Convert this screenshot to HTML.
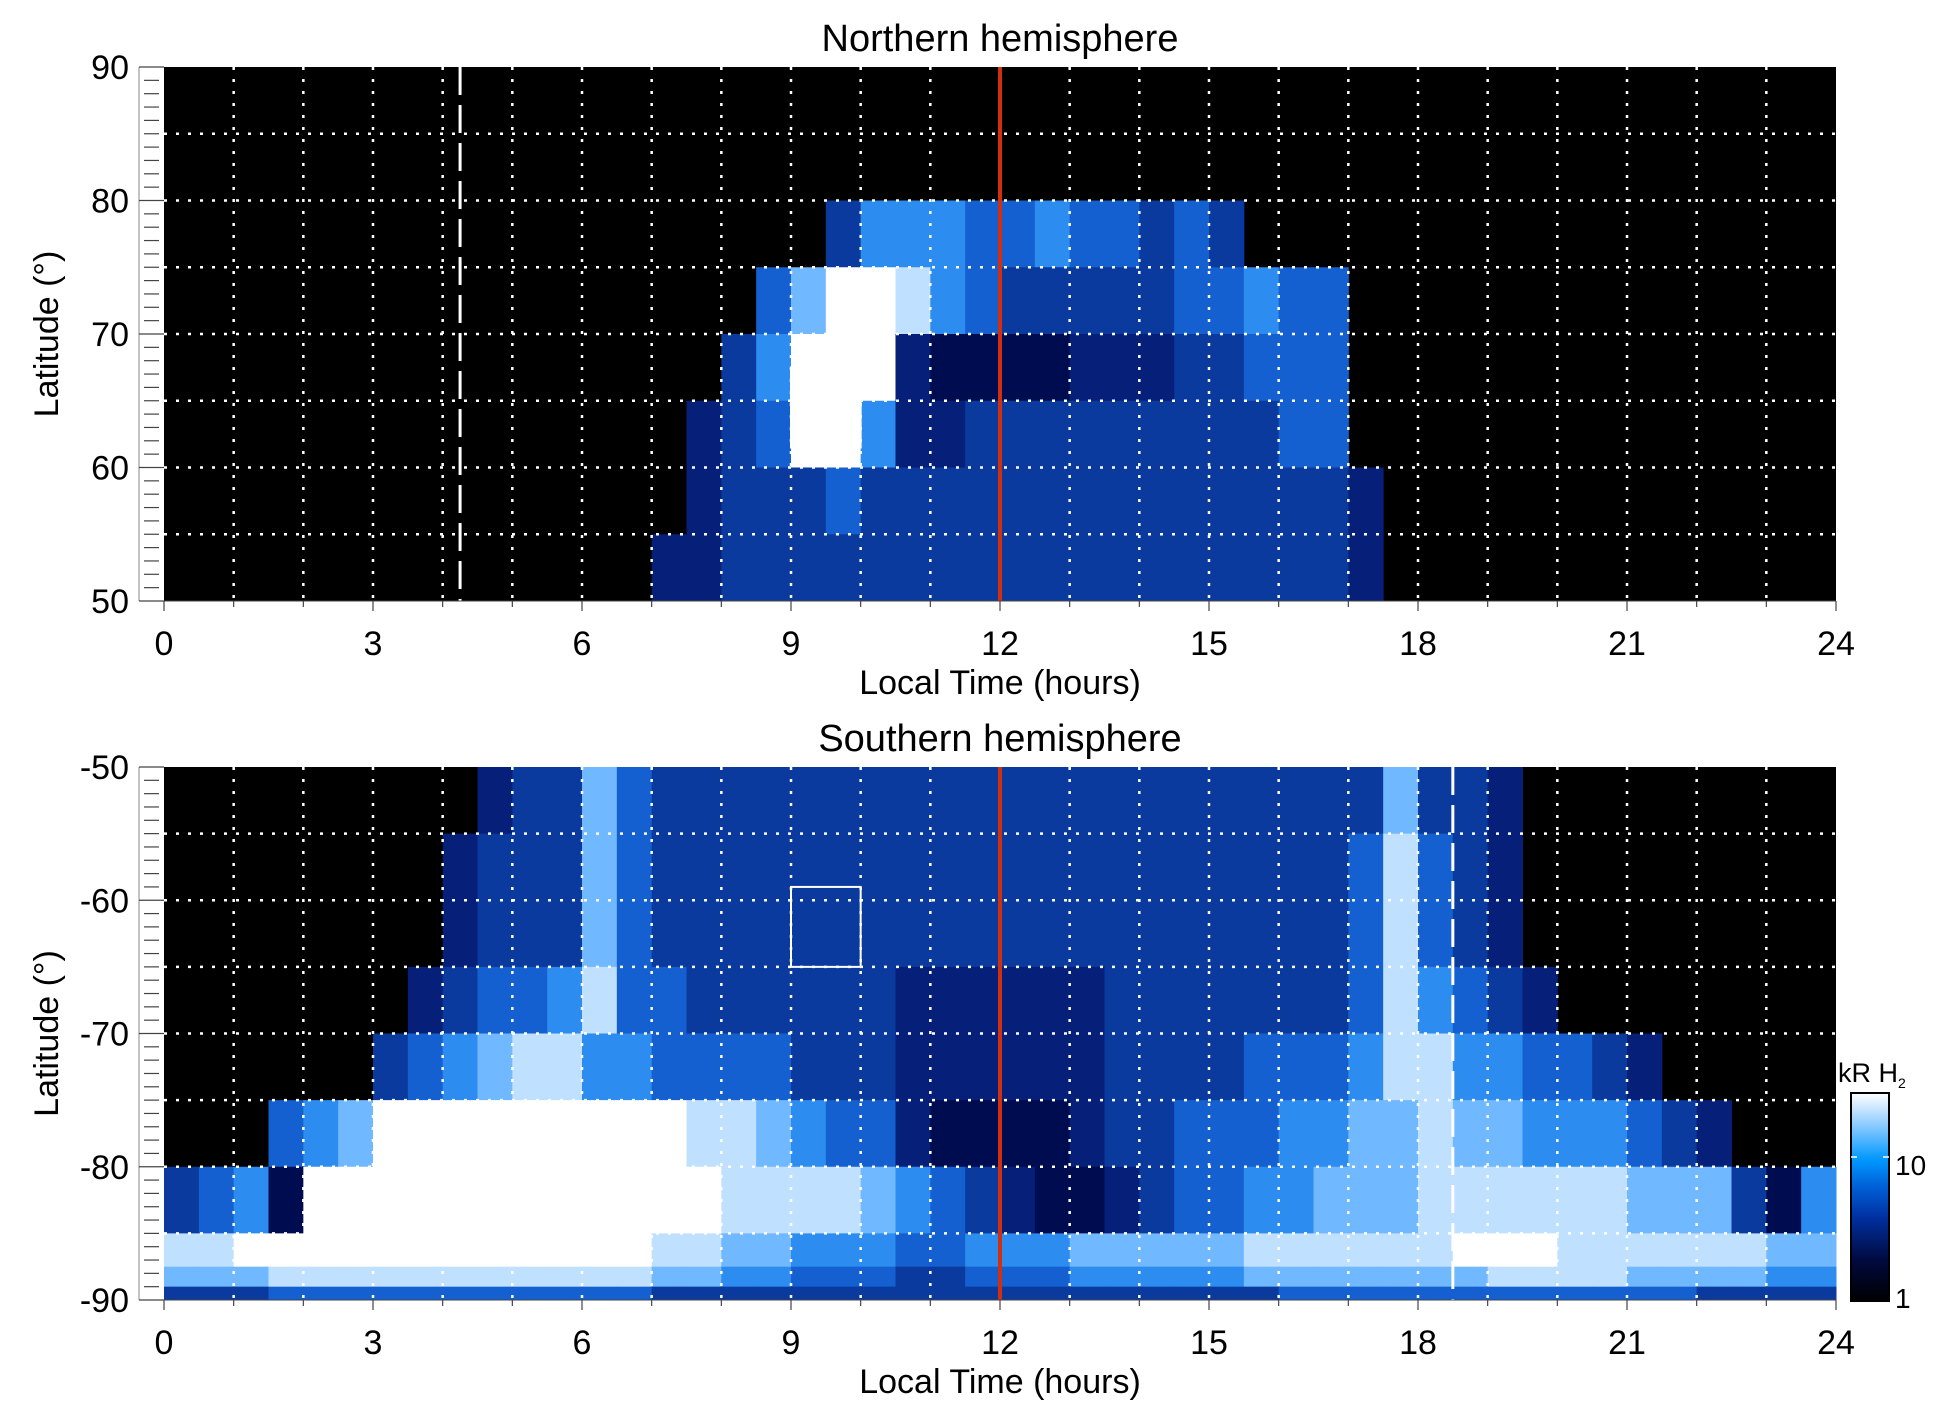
<!DOCTYPE html>
<html><head><meta charset="utf-8"><style>
body{margin:0;background:#fff;}
svg{display:block;font-family:"Liberation Sans",sans-serif;}
</style></head><body>
<svg id="fig" width="1950" height="1423" viewBox="0 0 1950 1423">
<defs>
<linearGradient id="cbg" x1="0" y1="1" x2="0" y2="0">
<stop offset="0" stop-color="#000"/><stop offset="0.2" stop-color="#000a40"/><stop offset="0.4" stop-color="#0030a0"/><stop offset="0.55" stop-color="#0060d8"/><stop offset="0.68" stop-color="#0098ff"/><stop offset="0.85" stop-color="#90ccff"/><stop offset="1" stop-color="#ffffff"/>
</linearGradient>
</defs>
<g id="north"></g>
<g id="south"></g>
<g>
<rect x="1851" y="1093" width="38" height="208" fill="url(#cbg)" stroke="#000" stroke-width="2"/>
<text x="1838" y="1082" font-size="27">kR H<tspan font-size="14" dy="6">2</tspan></text>
<text x="1895" y="1175" font-size="28">10</text>
<text x="1895" y="1308" font-size="28">1</text>
<line x1="1851" y1="1157" x2="1857" y2="1157" stroke="#fff" stroke-width="1.5"/>
<line x1="1883" y1="1157" x2="1889" y2="1157" stroke="#fff" stroke-width="1.5"/>
</g>
</svg>
<script>
// Intensity levels (0-9) per half-hour column (48 per row); rows span between consecutive edges
const hourTicks = [0,3,6,9,12,15,18,21,24];
const northLatTicks = [90,80,70,60,50];
const southLatTicks = [-50,-60,-70,-80,-90];
const northRowEdges = [90,85,80,75,70,65,60,55,50];
const northRows = [
"000000000000000000000000000000000000000000000000",
"000000000000000000000000000000000000000000000000",
"000000000000000000046665565545400000000000000000",
"000000000000000005799865444445565500000000000000",
"000000000000000046999322223334455500000000000000",
"000000000000000345996334444444445500000000000000",
"000000000000000344454444444444444430000000000000",
"000000000000003344444444444444444430000000000000"
];
const southRowEdges = [-50,-55,-60,-65,-70,-75,-80,-85,-87.5,-89,-90];
const southRows = [
"000000000344754444444444444444444447443000000000",
"000000003444754444444444444444444458543000000000",
"000000003444754444444444444444444458543000000000",
"000000034556855444444333333444444458654300000000",
"000000456788665555444333333444455568866554300000",
"000567999999999887655322223445556677877666543000",
"456299999999999988887654322345566777888888777426",
"889999999999998877666556667777788888899988888877",
"777888888888887766555445556666677777778888777766",
"444555555555554444444444444444445555555555554444"
];
const northDashHour = [4.25];
const southDashHour = [18.5];
const noonHour = [12];
const northBox = [9, 10, 61.5, 67.5];
const southBox = [9, 10, -59, -65];

const X0=164, X1=1836;
const xs = h => X0 + (h/24)*(X1-X0);
const palette=["#000000","#000628","#000c50","#061f78","#0a3a9e","#1460d0","#2c8cf0","#70b8ff","#c0e0ff","#ffffff"];
const NS="http://www.w3.org/2000/svg";
function mk(tag, attrs, parent){const e=document.createElementNS(NS,tag);for(const k in attrs)e.setAttribute(k,attrs[k]);parent.appendChild(e);return e;}

function panel(g, top, bot, latTop, latBot, edges, rows, latTicks, dashH, box, title){
  const ys = v => top + (latTop - v)/(latTop-latBot)*(bot-top);
  const bg=mk('rect',{x:X0,y:top,width:X1-X0,height:bot-top,fill:'#000'},g);
  
  
  rows.forEach((row,ri)=>{
    const la=edges[ri], lb=edges[ri+1];
    for(let c=0;c<48;c++){
      const v=+row[c]||0; if(!v) continue;
      const r=mk('rect',{x:xs(c/2),y:ys(la),width:xs((c+1)/2)-xs(c/2)+0.5,height:ys(lb)-ys(la)+0.5,fill:palette[v]},g);
      
      
    }
  });
  for(let h=1;h<24;h++){
    const l=mk('line',{x1:xs(h),y1:top,x2:xs(h),y2:bot,stroke:'#fff','stroke-width':2.5,'stroke-dasharray':'3 9'},g);
    
    
  }
  for(let la=Math.min(latTop,latBot)+5;la<Math.max(latTop,latBot);la+=5){
    const l=mk('line',{x1:X0,y1:ys(la),x2:X1,y2:ys(la),stroke:'#fff','stroke-width':2.5,'stroke-dasharray':'3 9'},g);
    
    
  }
  dashH.forEach(h=>{
    const l=mk('line',{x1:xs(h),y1:top,x2:xs(h),y2:bot,stroke:'#fff','stroke-width':3,'stroke-dasharray':'28 10'},g);
    
    
  });
  const b=mk('rect',{x:xs(box[0]),y:Math.min(ys(box[2]),ys(box[3])),width:xs(box[1])-xs(box[0]),height:Math.abs(ys(box[3])-ys(box[2])),fill:'none',stroke:'#fff','stroke-width':2},g);
  
  
  noonHour.forEach(h=>{
    const l=mk('line',{x1:xs(h),y1:top,x2:xs(h),y2:bot,stroke:'#d03010','stroke-width':4},g);
    
    
  });
  mk('line',{x1:X0-25,y1:top,x2:X0-25,y2:bot,stroke:'#888','stroke-width':1},g);
  for(let i=0;i<=40;i++){
    const y=top+i*(bot-top)/40, major=i%10===0;
    mk('line',{x1:X0-(major?25:20),y1:y,x2:X0-(major?0:5),y2:y,stroke:'#444','stroke-width':1.2},g);
  }
  latTicks.forEach(v=>{
    const t=mk('text',{x:X0-35,y:ys(v)+12,'font-size':34,'text-anchor':'end'},g);
    t.textContent=v;
    
    
  });
  for(let h=0;h<=24;h++){
    mk('line',{x1:xs(h),y1:bot,x2:xs(h),y2:bot+(h%3===0?10:6),stroke:'#444','stroke-width':1.2},g);
  }
  mk('line',{x1:X0,y1:bot,x2:X1,y2:bot,stroke:'#444','stroke-width':1},g);
  hourTicks.forEach(h=>{
    const t=mk('text',{x:xs(h),y:bot+54,'font-size':34,'text-anchor':'middle'},g);
    t.textContent=h;
    
    
  });
  const xt=mk('text',{x:(X0+X1)/2,y:bot+93,'font-size':34,'text-anchor':'middle'},g);
  xt.textContent='Local Time (hours)';
  
  
  const cy=(top+bot)/2;
  const yt=mk('text',{x:58,y:cy,'font-size':34,'text-anchor':'middle',transform:`rotate(-90 58 ${cy})`},g);
  yt.textContent='Latitude (°)';
  
  
  const tt=mk('text',{x:(X0+X1)/2,y:top-16,'font-size':38,'text-anchor':'middle'},g);
  tt.textContent=title;
  
  
}
panel(document.getElementById('north'),67,601,90,50,northRowEdges,northRows,northLatTicks,northDashHour,northBox,'Northern hemisphere');
panel(document.getElementById('south'),767,1300,-50,-90,southRowEdges,southRows,southLatTicks,southDashHour,southBox,'Southern hemisphere');
</script>
</body></html>
